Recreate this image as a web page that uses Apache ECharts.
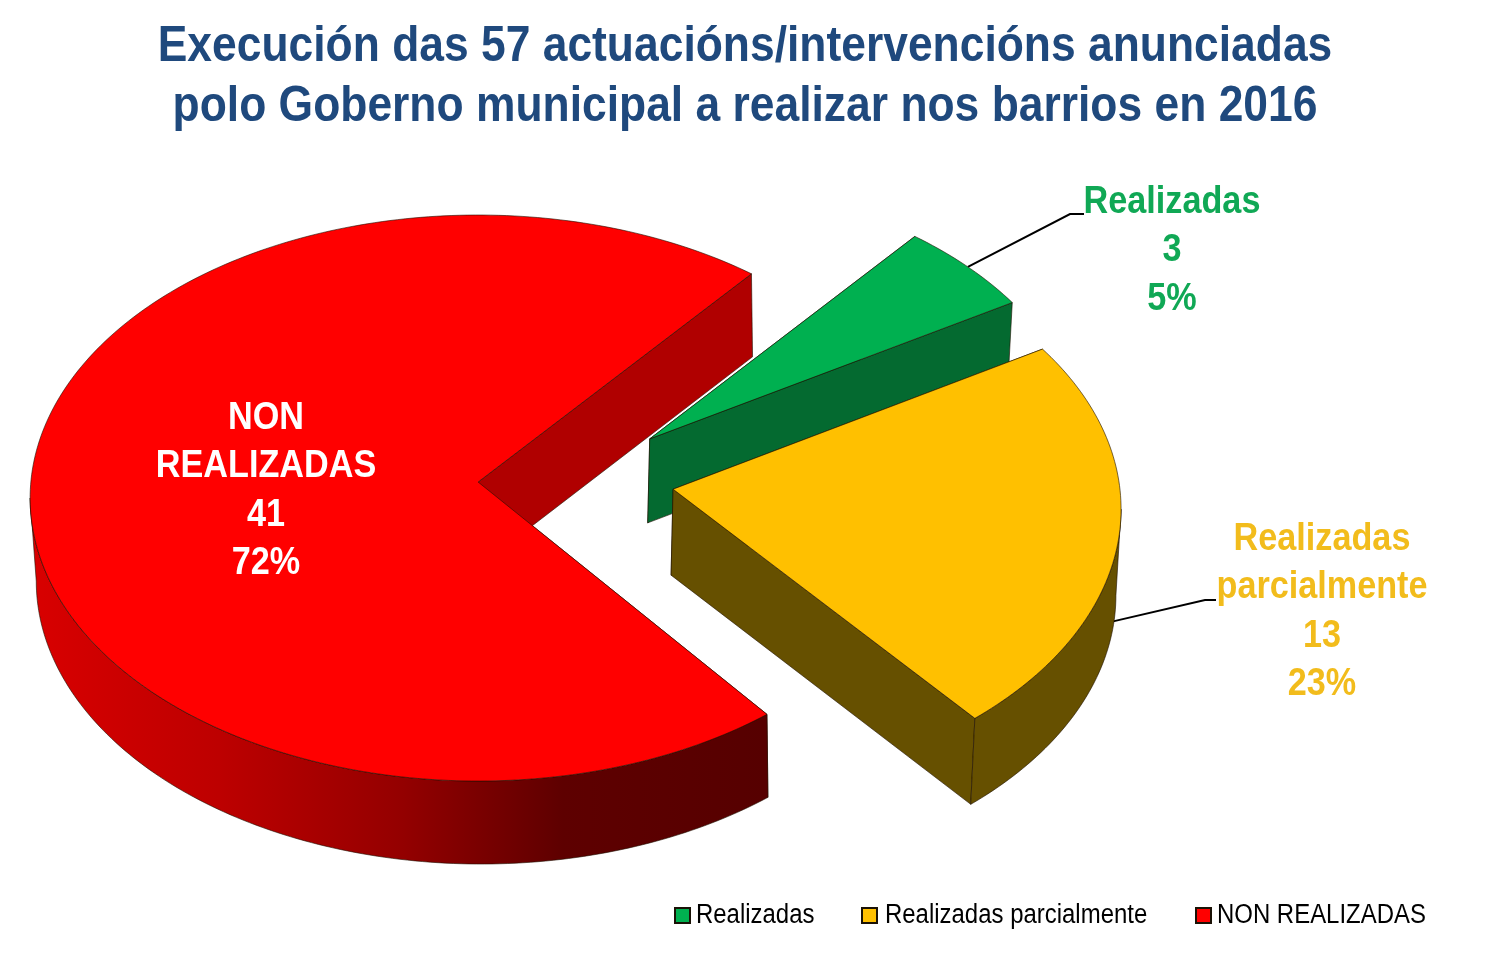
<!DOCTYPE html>
<html>
<head>
<meta charset="utf-8">
<title>Execución das 57 actuacións</title>
<style>
  html, body { margin: 0; padding: 0; background: #fff; }
  #chart { width: 1502px; height: 979px; }
</style>
<script src="https://cdn.jsdelivr.net/npm/echarts@6/dist/echarts.min.js"></script>
</head>
<body>
<div id="chart"></div>
<script>
// Chart content
const titleLines = [
  'Execución das 57 actuacións/intervencións anunciadas',
  'polo Goberno municipal a realizar nos barrios en 2016'
];
const categories = ['Realizadas', 'Realizadas parcialmente', 'NON REALIZADAS'];
const labelNames = ['Realizadas', 'Realizadas\nparcialmente', 'NON\nREALIZADAS'];
const values = [3, 13, 41];

// Slice colours
const topColors = ['#00b050', '#ffc000', '#ff0000'];
const labelColors = ['#10a855', '#f2bc1c', '#ffffff'];
const sideColors = ['#046a30', '#665000', '#b00000'];

// Pie projection: an ellipse for the top face, extruded downwards
const FONT = '"Liberation Sans", Arial, sans-serif';
const PIE = {
  cx: 576, cy: 497,        // centre of the unexploded pie
  rx: 448, ry: 283,        // radii of the top face
  explode: 0.2186,         // share of the radius each slice moves outwards
  bottomScale: 0.993,      // perspective: the bottom face is slightly narrower
  startAngle: 307.6        // where the first slice begins, clockwise from +x
};
// Per-slice perspective corrections
const radiusScale = [0.97, 1, 1];
const bottomShift = [-2, -2, 3];
const sliceDepth = [84, 86, 83];
const apexLift = [15, 20, 16];
const centerNudge = [[2, -1], [0, 4], [0, -1]];
const angleNudge = [[0, 0], [-1, -1], [1.2, 0]];

// Text layout: the labels use a condensed setting of the sans face
const labelAnchors = [[1172, 251], [1322, 612], [266, 491]];
const leaderElbows = [
  [[1070, 214], [1084, 214]],
  [[1205, 600], [1216, 600]],
  null
];
const labelSqueeze = 0.9;
const titleSqueeze = 0.888;
const legendSqueeze = 0.887;
const legendSwatchX = [675, 862, 1196];
const legendTextX = [696, 885, 1217];
const legendY = 916;

const total = values.reduce((a, b) => a + b, 0);
const rad = d => d * Math.PI / 180;

function sliceGeometry(i) {
  const before = values.slice(0, i).reduce((a, b) => a + b, 0);
  const a0 = PIE.startAngle + before / total * 360;
  const a1 = a0 + values[i] / total * 360;
  const mid = (a0 + a1) / 2;
  const cx = PIE.cx + PIE.explode * PIE.rx * Math.cos(rad(mid)) + centerNudge[i][0];
  const cy = PIE.cy + PIE.explode * PIE.ry * Math.sin(rad(mid)) + centerNudge[i][1];
  const s = radiusScale[i];
  const top = a => [cx + PIE.rx * s * Math.cos(rad(a)), cy + PIE.ry * s * Math.sin(rad(a))];
  const bottom = a => [
    cx + bottomShift[i] + PIE.rx * s * PIE.bottomScale * Math.cos(rad(a)),
    cy + sliceDepth[i] + PIE.ry * s * Math.sin(rad(a))
  ];
  return {
    a0: a0 + angleNudge[i][0], a1: a1 + angleNudge[i][1], mid, top, bottom,
    apex: [cx, cy - apexLift[i]],
    apexBottom: [cx + bottomShift[i], cy - apexLift[i] + sliceDepth[i]]
  };
}

function arc(fn, from, to) {
  const pts = [];
  const n = Math.max(2, Math.ceil(Math.abs(to - from)));
  for (let k = 0; k <= n; k++) pts.push(fn(from + (to - from) * k / n));
  return pts;
}

const edge = { stroke: 'rgba(30,15,0,0.75)', lineWidth: 0.8 };

// Horizontal shading across the visible outer wall of the large slice
const redWallFill = {
  type: 'linear', global: true, x: 36, y: 0, x2: 767, y2: 0,
  colorStops: [
    { offset: 0, color: '#d80000' },
    { offset: 0.25, color: '#bd0000' },
    { offset: 0.5, color: '#940000' },
    { offset: 0.72, color: '#5e0000' },
    { offset: 1, color: '#560000' }
  ]
};

function poly(points, fill, z2) {
  return { type: 'polygon', z2, shape: { points }, style: Object.assign({ fill }, edge) };
}

function renderSlice(i) {
  return function (params, api) {
    const value = api.value(0);
    const g = sliceGeometry(i);
    const children = [];
    const side = sideColors[i];

    // Cut walls: painted first so the top face of the slice overlaps them
    children.push(poly([g.apex, g.top(g.a0), g.bottom(g.a0), g.apexBottom], side, 1));
    children.push(poly([g.apex, g.top(g.a1), g.bottom(g.a1), g.apexBottom], side, 1));

    // Outer wall, only where the rim faces the viewer (0 to 180 degrees)
    const ranges = [[g.a0, g.a1], [g.a0 - 360, g.a1 - 360]];
    ranges.forEach(([p, q]) => {
      const from = Math.max(p, 0), to = Math.min(q, 180);
      if (to > from) {
        const wall = arc(g.top, from, to).concat(arc(g.bottom, to, from));
        children.push(poly(wall, i === 2 ? redWallFill : side, 2));
      }
    });

    // Top face
    children.push(poly([g.apex].concat(arc(g.top, g.a0, g.a1)), topColors[i], 3));

    // Leader line from the rim to the label
    if (leaderElbows[i]) {
      const start = i === 0 ? g.top(g.mid) : [g.bottom(g.mid)[0], g.bottom(g.mid)[1] - 11];
      children.push({
        type: 'polyline', z2: 0,
        shape: { points: [start].concat(leaderElbows[i]) },
        style: { fill: 'none', stroke: '#000', lineWidth: 2 }
      });
    }

    // Category, count and share
    const share = Math.round(value / total * 100);
    children.push({
      type: 'text', z2: 5,
      x: labelAnchors[i][0], y: labelAnchors[i][1],
      scaleX: labelSqueeze,
      style: {
        text: labelNames[i] + '\n' + value + '\n' + share + '%',
        font: 'bold 38px ' + FONT,
        lineHeight: 48.5,
        fill: labelColors[i],
        align: 'center',
        verticalAlign: 'middle'
      }
    });
    return { type: 'group', children };
  };
}

// Title and legend are text elements so they can share the condensed setting
const titleGraphic = {
  type: 'text', x: 745, y: 77, scaleX: titleSqueeze, silent: true,
  style: {
    text: titleLines.join('\n'),
    font: 'bold 50px ' + FONT,
    lineHeight: 60,
    fill: '#1f497d',
    align: 'center',
    verticalAlign: 'middle'
  }
};

const legendGraphics = categories.flatMap((name, i) => [
  {
    type: 'rect', silent: true,
    shape: { x: legendSwatchX[i], y: legendY - 8, width: 15, height: 15 },
    style: { fill: topColors[i], stroke: '#1a1206', lineWidth: 2 }
  },
  {
    type: 'text', silent: true,
    x: legendTextX[i], y: legendY, scaleX: legendSqueeze,
    style: {
      text: name, font: '27px ' + FONT, fill: '#000',
      align: 'left', verticalAlign: 'middle'
    }
  }
]);

const chart = echarts.init(document.getElementById('chart'), null, { renderer: 'canvas' });
chart.setOption({
  animation: false,
  backgroundColor: '#ffffff',
  graphic: { elements: [titleGraphic].concat(legendGraphics) },
  series: categories.map((name, i) => ({
    type: 'custom',
    name,
    coordinateSystem: 'none',
    silent: true,
    z: i + 1,
    itemStyle: { color: topColors[i] },
    renderItem: renderSlice(i),
    data: [[values[i]]]
  }))
});
</script>
</body>
</html>
